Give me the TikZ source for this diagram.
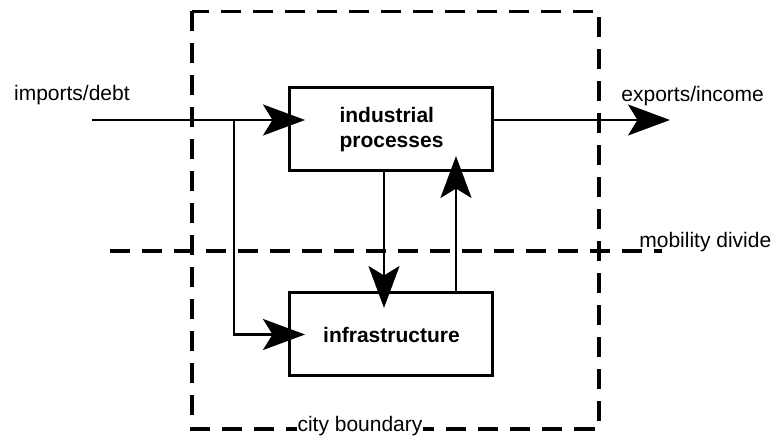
\documentclass[tikz,border=0pt]{standalone}
\usepackage{fontspec}
\setmainfont{Liberation Sans}
\usetikzlibrary{positioning,arrows.meta}

\begin{document}
\begin{tikzpicture}[node distance=61pt,>={Stealth[length=21pt,width=15.5pt,inset=4.75pt]},
    line width=1.4pt,font=\fontsize{10.5}{12.5}\selectfont]
  \useasboundingbox (-195.75pt,64.75pt) rectangle (190.25pt,-154.25pt);
  \tikzset{
    process/.style={rectangle,draw=black,line width=1.5pt,outer sep=0pt,
      minimum width=101.5pt,minimum height=41.5pt,align=left,
      font=\fontsize{10.5}{12.5}\selectfont\bfseries},
    border/.style={dash pattern=on 10pt off 6pt,line width=1.8pt},
    % edge styles
    flow/.style={->,shorten >=-7.5pt},
    % label styles
    tag/.style={inner sep=0pt},
    tagbox/.style={fill=white,inner xsep=0.5pt,inner ysep=1pt}
  }

  %%% City processes
  \node[process] (ind) {industrial\\processes};
  \node[process] (infra) [below=of ind] {infrastructure};

  \draw[flow] ([xshift=-3.75pt]ind.south) -- ([xshift=-3.75pt]infra.north);
  \draw[flow] ([xshift=32.25pt]infra.north) -- ([xshift=32.25pt]ind.south);

  %%% Flows in and out
  \coordinate (src) at (-149.75pt,4.75pt);
  \coordinate (split) at (-78.75pt,4.75pt);
  \coordinate (sink) at (139.25pt,4.75pt);

  \draw[flow] (src) -- (ind.west |- src);
  \draw[flow] (split) |- (infra.west);
  \draw[->] (ind.east |- src) -- (sink);

  %%% Dashed divides
  \coordinate (mobL) at (-140.75pt,-60.75pt);
  \coordinate (mobR) at (135.25pt,-60.75pt);
  \draw[border] (mobL) -- (mobR);
  \draw[border] (-99.75pt,59pt) rectangle (103.75pt,-149.75pt);

  % Labels
  \node[tag,anchor=base west] (imp) at (-189.4pt,14.25pt) {imports/debt};
  \node[tag,anchor=base west] (exp) at (114.25pt,13.75pt) {exports/income};
  \node[tag,anchor=base west] (mob) at (123.25pt,-59.25pt) {mobility divide};
  \node[tagbox,anchor=base] (city) at (-15.75pt,-151pt) {city boundary};

\end{tikzpicture}
\end{document}
